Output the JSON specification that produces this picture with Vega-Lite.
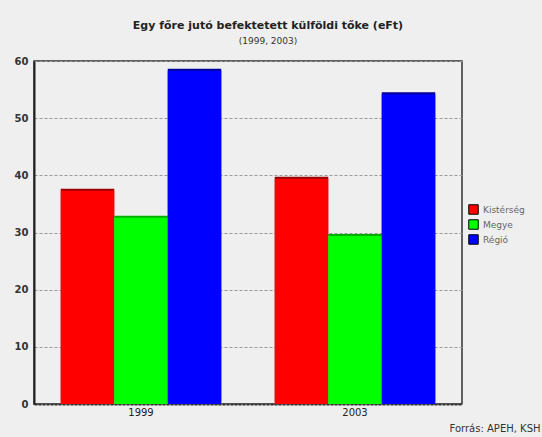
{
  "$schema": "https://vega.github.io/schema/vega-lite/v6.json",
  "width": 428,
  "height": 343,
  "autosize": {"type": "none"},
  "padding": {"left": 34, "top": 61, "right": 80, "bottom": 33},
  "background": "#efefef",
  "config": {
    "font": "DejaVu Sans",
    "view": {"stroke": "#333333", "strokeWidth": 1.5, "fill": "#efefef"}
  },
  "title": {
    "text": "Egy főre jutó befektetett külföldi tőke (eFt)",
    "subtitle": "(1999, 2003)",
    "fontSize": 11,
    "fontWeight": "bold",
    "color": "#222222",
    "subtitleFontSize": 9,
    "subtitleColor": "#333333",
    "subtitlePadding": 6,
    "anchor": "middle",
    "dx": 20,
    "offset": 10
  },
  "data": {
    "values": [
      {"ev": "1999", "terulet": "Kistérség", "ertek": 37.3},
      {"ev": "1999", "terulet": "Megye", "ertek": 32.6},
      {"ev": "1999", "terulet": "Régió", "ertek": 58.3},
      {"ev": "2003", "terulet": "Kistérség", "ertek": 39.4},
      {"ev": "2003", "terulet": "Megye", "ertek": 29.4},
      {"ev": "2003", "terulet": "Régió", "ertek": 54.2}
    ]
  },
  "encoding": {
    "x": {
      "field": "ev",
      "type": "nominal",
      "scale": {"paddingInner": 0.25, "paddingOuter": 0.125},
      "axis": {
        "title": "Forrás: APEH, KSH",
        "titleX": 506,
        "titleY": 19,
        "titleAlign": "right",
        "titleBaseline": "top",
        "titleFontSize": 10,
        "titleFontWeight": "normal",
        "titleColor": "#333333",
        "labelAngle": 0,
        "labelFontSize": 10,
        "labelColor": "#222222",
        "labelPadding": 3,
        "ticks": false,
        "domainColor": "#333333",
        "domainWidth": 2,
        "domainDash": [3, 1]
      }
    },
    "xOffset": {"field": "terulet", "type": "nominal", "scale": {"padding": 0}},
    "y": {
      "field": "ertek",
      "type": "quantitative",
      "scale": {"domain": [0, 60]},
      "axis": {
        "title": null,
        "values": [0, 10, 20, 30, 40, 50, 60],
        "labelFontSize": 10,
        "labelFontWeight": "bold",
        "labelColor": "#333333",
        "labelPadding": 6,
        "ticks": false,
        "domainColor": "#222222",
        "domainWidth": 2,
        "gridColor": "#999999",
        "gridDash": [3, 2],
        "gridWidth": 1
      }
    }
  },
  "layer": [
    {
      "mark": {"type": "bar", "xOffset": 3, "yOffset": -2},
      "encoding": {
        "color": {
          "field": "terulet",
          "type": "nominal",
          "scale": {"domain": ["Kistérség", "Megye", "Régió"], "range": ["#9a0000", "#00b000", "#00009a"]},
          "legend": null
        }
      }
    },
    {
      "mark": {"type": "bar"},
      "encoding": {
        "color": {
          "field": "terulet",
          "type": "nominal",
          "scale": {"domain": ["Kistérség", "Megye", "Régió"], "range": ["#ff0000", "#00ff00", "#0000ff"]},
          "legend": {
            "title": null,
            "orient": "none",
            "legendX": 434,
            "legendY": 143,
            "symbolType": "square",
            "symbolSize": 90,
            "symbolStrokeColor": "#000000",
            "symbolStrokeWidth": 1,
            "labelFontSize": 9,
            "labelColor": "#666666",
            "rowPadding": 0,
            "symbolOffset": 0
          }
        }
      }
    }
  ],
  "resolve": {"scale": {"color": "independent"}}
}
